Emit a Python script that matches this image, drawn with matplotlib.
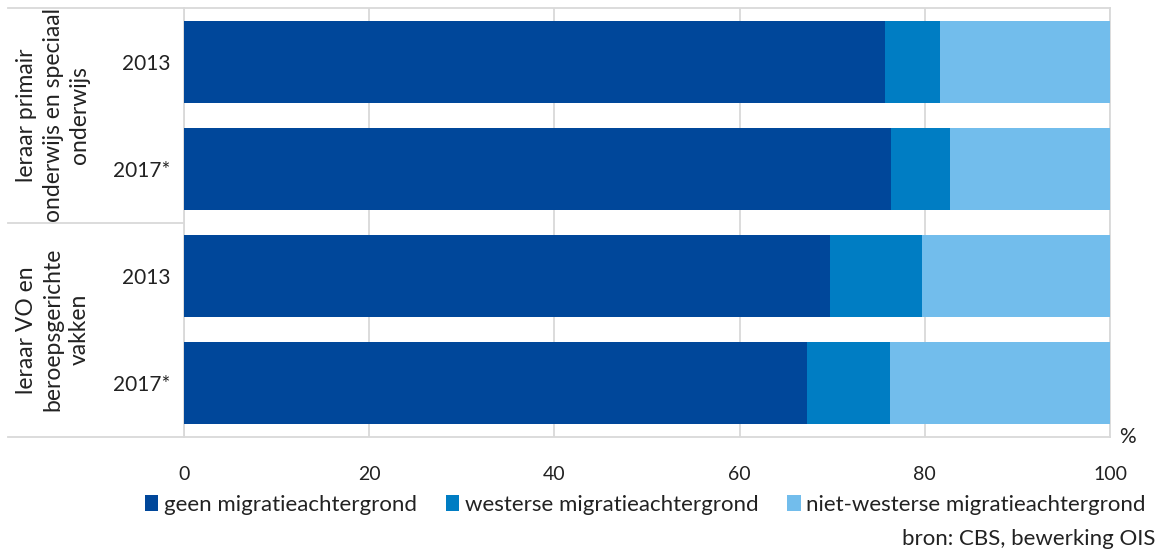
import matplotlib
matplotlib.use("Agg")
import matplotlib.pyplot as plt
import numpy as np
from matplotlib.patches import Patch
import matplotlib.transforms as mtransforms

plt.rcParams['font.family'] = ['Lato', 'DejaVu Sans']

years = ["2013", "2017*", "2013", "2017*"]
groups = ["leraar primair\nonderwijs en speciaal\nonderwijs", "leraar VO en\nberoepsgerichte\nvakken"]
series_names = ["geen migratieachtergrond", "westerse migratieachtergrond", "niet-westerse migratieachtergrond"]
geen = [75.7, 76.4, 69.8, 67.3]
westers = [5.9, 6.3, 9.9, 8.9]
niet_westers = [18.4, 17.3, 20.3, 23.8]
colors = ["#00479A", "#007DC3", "#72BDEC"]
xticks = [0, 20, 40, 60, 80, 100]

fig = plt.figure(figsize=(11.67, 5.53), dpi=100)
ax = fig.add_axes([184/1167, 1 - 437/553, (1110-184)/1167, (437-8)/553])

y = np.arange(len(years))
left = np.zeros(len(years))
for vals, c, name in zip([geen, westers, niet_westers], colors, series_names):
    ax.barh(y, vals, left=left, height=0.765, color=c, label=name, zorder=3,
            edgecolor='none')
    left = left + np.array(vals)

ax.set_xlim(0, 100)
ax.set_ylim(len(years) - 0.5, -0.5)
ax.set_xticks(xticks)
ax.set_xticklabels([str(t) for t in xticks], fontsize=14, color="#222222")
ax.tick_params(axis='x', length=0, pad=21)
ax.set_yticks(y)
ax.set_yticklabels(years, fontsize=15, color="#222222")
ax.tick_params(axis='y', length=0, pad=10)
ax.grid(axis='x', color="#D9D9D9", linewidth=1.3, zorder=0)
for s in ax.spines.values():
    s.set_color("#D9D9D9")
    s.set_linewidth(1.3)

# category table lines on left
trans = mtransforms.blended_transform_factory(ax.transAxes, ax.transData)
x0 = (8 - 184) / (1110 - 184)
for yy in [-0.5, 1.5, 3.5]:
    ax.plot([x0, 0], [yy, yy], transform=trans, color="#D9D9D9", lw=1.3, clip_on=False)

gx = (53 - 184) / (1110 - 184)
for i, g in enumerate(groups):
    ax.text(gx, 2 * i + 0.5, g, transform=trans, rotation=90, ha='center', va='center',
            fontsize=16.5, color="#222222", linespacing=1.3)

ax.text(1.01, 3.5, "%", transform=trans, ha='left', va='center', fontsize=15, color="#222222")

handles = [Patch(facecolor=c, edgecolor='none') for c in colors]
fig.legend(handles, series_names, loc='center', bbox_to_anchor=(0.553, 1 - 505/553), ncol=3,
           frameon=False, fontsize=16, handlelength=0.6, handleheight=0.7, handletextpad=0.25,
           columnspacing=1.3, labelcolor="#222222")

fig.text(1155/1167, 1 - 539/553, "bron: CBS, bewerking OIS", ha='right', va='center',
         fontsize=16, color="#222222")

fig.savefig("out.png", dpi=100)
